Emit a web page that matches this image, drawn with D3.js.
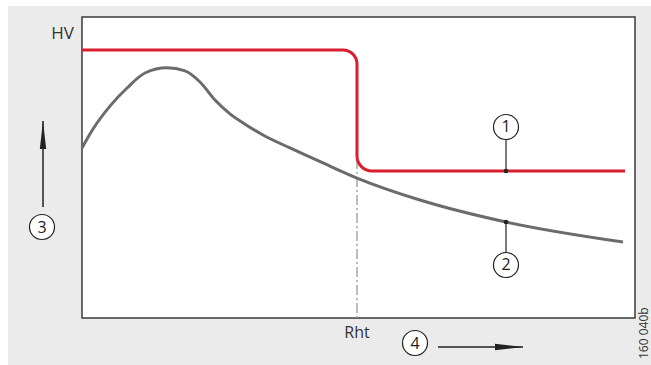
<!DOCTYPE html>
<html><head><meta charset="utf-8">
<script src="https://cdn.jsdelivr.net/npm/d3@7"></script>
<style>
html,body{margin:0;padding:0;background:#fff;}
svg{display:block;font-family:"Open Sans",sans-serif;}
</style></head>
<body>
<svg id="chart" width="651" height="365"></svg>
<script>
// ---- data (abstract units, 0..100 on both axes) ----
const grayX = [0, 1.99, 5.06, 8.14, 11.39, 15.37, 18.63, 21.34, 24.05, 26.76, 29.48, 32.73, 37.61, 43.58, 49.73, 61.12, 76.67, 97.83];
const grayY = [56.5, 62.8, 70.4, 76.4, 81.4, 83.1, 82.1, 78.4, 72.4, 67.8, 64.4, 60.8, 56.5, 51.5, 46.5, 39.2, 31.9, 25.25];
const redLevels = [89.04, 48.84];   // high / low
const redX = [0, 49.73, 98.2];       // start, step, end
const rhtX = [49.73];
const rhtLabel = ["Rht"];
const yLabel = ["HV"];
const calloutX = [76.67, 76.67];
const calloutLabels = ["1", "2"];
const axisMarkers = ["3", "4"];
const codeText = ["160 040b"];

const svg = d3.select("#chart");
const W = 651, H = 365;
svg.append("rect").attr("x", 8).attr("y", 6).attr("width", W - 8).attr("height", H - 6).attr("fill", "#ebebeb");

const L = 82, T = 17, R = 635, B = 318;
const x = d3.scaleLinear().domain([0, 100]).range([L, R]);
const y = d3.scaleLinear().domain([0, 100]).range([B, T]);

svg.append("rect").attr("x", L).attr("y", T).attr("width", R - L).attr("height", B - T)
  .attr("fill", "#fff").attr("stroke", "#3a3a3a").attr("stroke-width", 1.5);

// dash-dot vertical line at Rht
svg.append("line").attr("x1", x(rhtX[0])).attr("x2", x(rhtX[0]))
  .attr("y1", y(redLevels[1]) - 12).attr("y2", y(0))
  .attr("stroke", "#9a9a9a").attr("stroke-width", 1.3).attr("stroke-dasharray", "10,3,2,3");

// gray curve
const grayData = grayX.map((v, i) => [v, grayY[i]]);
svg.append("path").datum(grayData)
  .attr("d", d3.line().x(d => x(d[0])).y(d => y(d[1])).curve(d3.curveMonotoneX))
  .attr("fill", "none").attr("stroke", "#6b6b6b").attr("stroke-width", 3);

// red step curve with rounded corners
const p = d3.path();
const xs = x(redX[1]), yh = y(redLevels[0]), yl = y(redLevels[1]);
p.moveTo(x(redX[0]), yh);
p.arcTo(xs, yh, xs, yl, 14);
p.arcTo(xs, yl, x(redX[2]), yl, 15);
p.lineTo(x(redX[2]), yl);
svg.append("path").attr("d", p.toString()).attr("fill", "none")
  .attr("stroke", "#d71f2e").attr("stroke-width", 3);

// callouts
function circleLabel(cx, cy, t) {
  svg.append("circle").attr("cx", cx).attr("cy", cy).attr("r", 12.5)
    .attr("fill", "#fff").attr("stroke", "#222").attr("stroke-width", 1.2);
  svg.append("text").attr("x", cx).attr("y", cy + 5.5).attr("text-anchor", "middle")
    .attr("font-size", 16).attr("fill", "#222").text(t);
}
const grayAt = xv => grayY[d3.bisectLeft(grayX, xv)];
const c1x = x(calloutX[0]), c1y = y(redLevels[1]);
svg.append("line").attr("x1", c1x).attr("x2", c1x).attr("y1", c1y).attr("y2", c1y - 32).attr("stroke", "#222").attr("stroke-width", 1.2);
svg.append("circle").attr("cx", c1x).attr("cy", c1y).attr("r", 2.3).attr("fill", "#222");
circleLabel(c1x, c1y - 44, calloutLabels[0]);

const c2x = x(calloutX[1]), c2y = y(grayAt(calloutX[1]));
svg.append("line").attr("x1", c2x).attr("x2", c2x).attr("y1", c2y).attr("y2", c2y + 32).attr("stroke", "#222").attr("stroke-width", 1.2);
svg.append("circle").attr("cx", c2x).attr("cy", c2y).attr("r", 2.3).attr("fill", "#222");
circleLabel(c2x, c2y + 43, calloutLabels[1]);

// arrows
const defs = svg.append("defs");
defs.append("marker").attr("id", "ah").attr("viewBox", "0 0 28 8").attr("refX", 28).attr("refY", 4)
  .attr("markerWidth", 28).attr("markerHeight", 8).attr("markerUnits", "userSpaceOnUse").attr("orient", "auto")
  .append("path").attr("d", "M0,4 L28,4 L0,0.8 Z M0,4 L28,4 L0,7.2 Z").attr("fill", "#222");
svg.append("line").attr("x1", 43).attr("x2", 43).attr("y1", 207).attr("y2", 121)
  .attr("stroke", "#222").attr("stroke-width", 1.5).attr("marker-end", "url(#ah)");
circleLabel(42, 227, axisMarkers[0]);
svg.append("line").attr("x1", 438).attr("x2", 523).attr("y1", 347).attr("y2", 347)
  .attr("stroke", "#222").attr("stroke-width", 1.5).attr("marker-end", "url(#ah)");
circleLabel(415, 343, axisMarkers[1]);

// texts
svg.append("text").attr("x", 74).attr("y", 39).attr("text-anchor", "end")
  .attr("font-size", 17).attr("fill", "#333").text(yLabel[0]);
svg.append("text").attr("x", x(rhtX[0])).attr("y", 338).attr("text-anchor", "middle")
  .attr("font-size", 16).attr("fill", "#333").text(rhtLabel[0]);
svg.append("text").attr("transform", "translate(648,359) rotate(-90)")
  .attr("font-size", 12).attr("fill", "#333").text(codeText[0]);
</script>
</body></html>
